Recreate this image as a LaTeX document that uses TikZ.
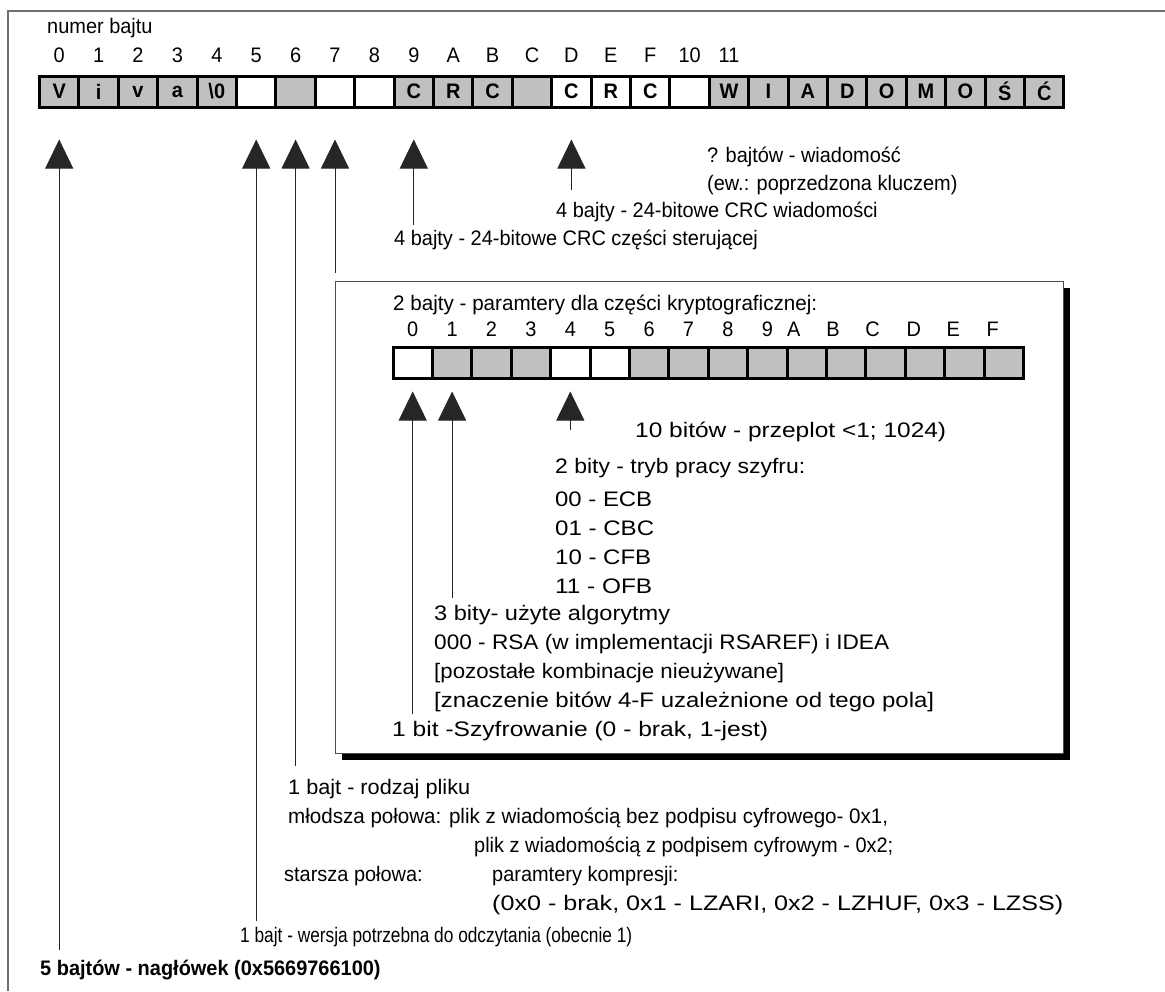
\documentclass[tikz,border=0pt]{standalone}
\usepackage{fontspec}
\usepackage{graphicx}
\setmainfont{Liberation Sans}[FakeStretch=0.95]
\usetikzlibrary{arrows.meta, positioning, shadows}

\definecolor{cellgray}{HTML}{C0C0C0}
\definecolor{framegray}{HTML}{707070}
\newcommand{\stretchtxt}[2]{\resizebox{#1}{\height}{#2}}
\tikzstyle{bytew} = [rectangle, draw=black, line width=3pt, minimum width=39.4pt, minimum height=31pt, inner sep=0pt, font=\bfseries, fill=white]
\tikzstyle{byteg} = [bytew, fill=cellgray]
\tikzstyle{num} = [inner sep=0pt]
\tikzstyle{txt} = [inner sep=0pt, anchor=west]
\tikzstyle{uparrow} = [line width=0.8pt, draw=black!85, -{Triangle[width=28pt,length=29pt]}]
\tikzstyle{cryptobox} = [rectangle, draw=black!70, line width=1pt, fill=white, inner sep=0pt, anchor=north west, general shadow={fill=black, shadow xshift=6pt, shadow yshift=-6pt}]

\begin{document}
\fontsize{21}{28}\selectfont
\begin{tikzpicture}[x=1pt, y=-1pt]
\useasboundingbox (0,0) rectangle (1165,991);
\draw [framegray, line width=1.2pt] (1165,11) -- (8,11) -- (8,991);

% bajty naglowka
\node (numer) [txt] at (47,28) {numer bajtu};
\foreach \t/\f [count=\i from 0] in {V/g, i/g, v/g, a/g, {\textbackslash 0}/g, /w, /g, /w, /w, C/g, R/g, C/g, /g, C/w, R/w, C/w, /w, W/g, I/g, A/g, D/g, O/g, M/g, O/g, Ś/g, Ć/g}
  \node (b\i) [byte\f] at ({59.2+39.4*\i},91.5) {\t};
\foreach \l [count=\i from 0] in {0,1,2,3,4,5,6,7,8,9,A,B,C,D,E,F,10,11}
  \node [num, above=12pt of b\i] {\l};

% opisy
\node (wiad) [txt] at (707,157) {? bajtów - wiadomość};
\node (klucz) [txt] at (707,185) {(ew.: poprzedzona kluczem)};
\node (crcw) [txt] at (556,212) {4 bajty - 24-bitowe CRC wiadomości};
\node (crcs) [txt] at (394,240) {4 bajty - 24-bitowe CRC części sterującej};

% czesc kryptograficzna
\node (crypto) [cryptobox, minimum width=728pt, minimum height=472pt] at (335,281) {};
\node (param) [txt] at (393,305) {\stretchtxt{424pt}{2 bajty - paramtery dla części kryptograficznej:}};
\foreach \f [count=\i from 0] in {w,g,g,g,w,w,g,g,g,g,g,g,g,g,g,g}
  \node (t\i) [byte\f] at ({412.7+39.4*\i},362.5) {};
\foreach \l/\s [count=\i from 0] in {0/0,1/0,2/0,3/0,4/0,5/0,6/0,7/0,8/0,9/0,A/-13,B/-13,C/-13,D/-11,E/-11,F/-11}
  \node [num, above=9pt of t\i, xshift=\s pt] {\l};

\node (przeplot) [txt] at (635,432) {\stretchtxt{311pt}{10 bitów - przeplot <1; 1024)}};
\node (tryb) [txt] at (555,468) {\stretchtxt{250pt}{2 bity - tryb pracy szyfru:}};
\node (ecb) [txt] at (555,499) {\stretchtxt{97pt}{00 - ECB}};
\node (cbc) [txt] at (555,528) {\stretchtxt{99pt}{01 - CBC}};
\node (cfb) [txt] at (555,557) {\stretchtxt{96pt}{10 - CFB}};
\node (ofb) [txt] at (555,586) {\stretchtxt{97pt}{11 - OFB}};
\node (alg) [txt] at (434,615) {\stretchtxt{236pt}{3 bity- użyte algorytmy}};
\node (rsa) [txt] at (434,644) {\stretchtxt{455pt}{000 - RSA (w implementacji RSAREF) i IDEA}};
\node (pozost) [txt] at (434,673) {\stretchtxt{350pt}{[pozostałe kombinacje nieużywane]}};
\node (znacz) [txt] at (434,702) {\stretchtxt{500pt}{[znaczenie bitów 4-F uzależnione od tego pola]}};
\node (szyfr) [txt] at (392,731) {\stretchtxt{376pt}{1 bit -Szyfrowanie (0 - brak, 1-jest)}};

% rodzaj pliku i wersja
\node (rodzaj) [txt] at (288,789) {\stretchtxt{182pt}{1 bajt - rodzaj pliku}};
\node (mlodsza) [txt] at (288,818) {\stretchtxt{600pt}{młodsza połowa: plik z wiadomością bez podpisu cyfrowego- 0x1,}};
\node (podpis) [txt] at (474,847) {plik z wiadomością z podpisem cyfrowym - 0x2;};
\node (starsza) [txt] at (284,876) {starsza połowa:};
\node (kompr) [txt] at (492,876) {paramtery kompresji:};
\node (lz) [txt] at (492,905) {\stretchtxt{571pt}{(0x0 - brak, 0x1 - LZARI, 0x2 - LZHUF, 0x3 - LZSS)}};
\node (wersja) [txt] at (240,937) {\stretchtxt{392pt}{1 bajt - wersja potrzebna do odczytania (obecnie 1)}};
\node (naglowek) [txt, font=\bfseries] at (40,970) {5 bajtów - nagłówek (0x5669766100)};

% strzalki
\draw [uparrow, shorten >=31pt] (b0.south |- 0,950) -- (b0.south);
\draw [uparrow, shorten >=31pt] (b5.south |- 0,921) -- (b5.south);
\draw [uparrow, shorten >=31pt] (b6.south |- 0,766) -- (b6.south);
\draw [uparrow, shorten >=31pt] (b7.south |- 0,273) -- (b7.south);
\draw [uparrow, shorten >=31pt] (b9.south |- 0,225) -- (b9.south);
\draw [uparrow, shorten >=31pt] (b13.south |- 0,190) -- (b13.south);
\draw [uparrow, shorten >=12pt] (t0.south |- 0,714) -- (t0.south);
\draw [uparrow, shorten >=12pt] (t1.south |- 0,598) -- (t1.south);
\draw [uparrow, shorten >=12pt] (t4.south |- 0,430) -- (t4.south);
\end{tikzpicture}
\end{document}
